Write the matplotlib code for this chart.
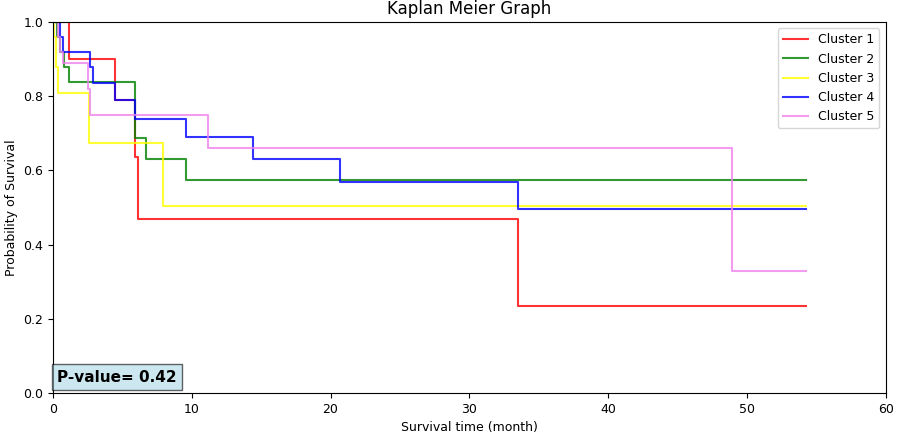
import matplotlib.pyplot as plt

# step times (month) and survival after each step
c1_t = [0, 1.15, 4.5, 5.9, 6.1, 33.5, 54.3]
c1_s = [1.0, 0.90, 0.79, 0.635, 0.47, 0.235, 0.235]
c2_t = [0, 0.27, 0.5, 0.8, 1.15, 5.9, 6.7, 9.6, 54.3]
c2_s = [1.0, 0.96, 0.92, 0.88, 0.838, 0.687, 0.63, 0.573, 0.573]
c3_t = [0, 0.1, 0.2, 0.37, 2.6, 7.9, 54.3]
c3_s = [1.0, 0.96, 0.88, 0.81, 0.673, 0.505, 0.505]
c4_t = [0, 0.5, 0.7, 2.7, 2.9, 4.5, 5.9, 9.6, 14.4, 20.7, 33.5, 54.3]
c4_s = [1.0, 0.96, 0.92, 0.88, 0.835, 0.79, 0.74, 0.69, 0.63, 0.57, 0.497, 0.497]
c5_t = [0, 0.35, 0.5, 0.7, 2.5, 2.7, 11.2, 48.9, 54.3]
c5_s = [1.0, 0.96, 0.92, 0.89, 0.82, 0.75, 0.66, 0.33, 0.33]

curves = [(c1_t, c1_s, 'red'), (c2_t, c2_s, 'green'), (c3_t, c3_s, 'yellow'),
          (c4_t, c4_s, 'blue'), (c5_t, c5_s, 'violet')]

fig = plt.figure(figsize=(9.03, 4.43), dpi=100)
ax = fig.add_axes([0.0587, 0.113, 0.922, 0.837])
for i, (t, s, col) in enumerate(curves):
    ax.step(t, s, where='post', color=col, alpha=0.8, lw=1.5, label=f'Cluster {i + 1}')

ax.set_xlim(0, 60)
ax.set_ylim(0, 1)
ax.set_title('Kaplan Meier Graph')
ax.set_xlabel('Survival time (month)', fontsize=9)
ax.set_ylabel('Probability of Survival', fontsize=9)
ax.tick_params(labelsize=9)
ax.legend(loc='upper right', fontsize=9)
ax.text(0.005, 0.03, 'P-value= 0.42', transform=ax.transAxes, fontsize=11, fontweight='bold',
        bbox=dict(facecolor='lightblue', alpha=0.6, edgecolor='black'))

fig.savefig('out.png')
